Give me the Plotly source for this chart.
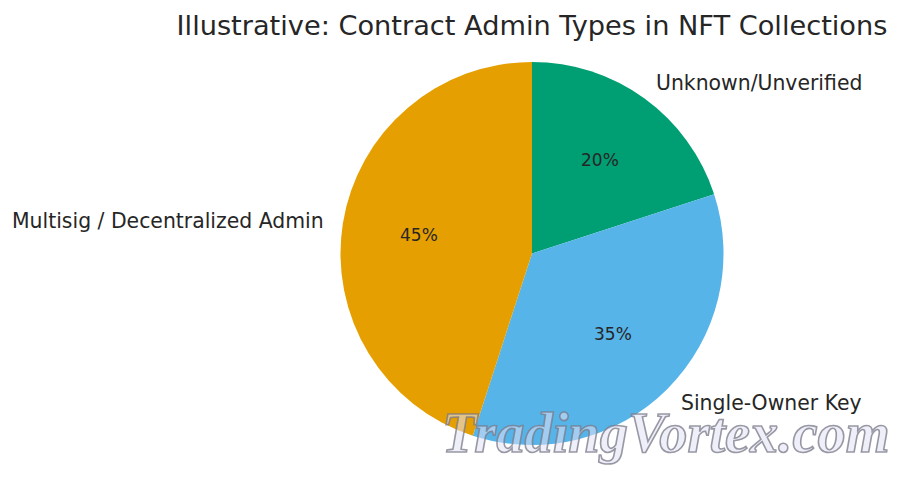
import numpy as np
import plotly.graph_objects as go

labels = ["Unknown/Unverified", "Single-Owner Key", "Multisig / Decentralized Admin"]
values = [20, 35, 45]
colors = ["#009E73", "#56B4E9", "#E69F00"]
pct_text = ["20%", "35%", "45%"]
title = "Illustrative: Contract Admin Types in NFT Collections"
watermark = "TradingVortex.com"

W, H = 900, 477
cx, cy, radius = 532, 253.5, 191.5

fig = go.Figure(go.Pie(
    labels=labels,
    values=values,
    sort=False,
    direction="clockwise",
    rotation=0,
    textinfo="none",
    hoverinfo="skip",
    marker=dict(colors=colors),
    showlegend=False,
    domain=dict(x=[(cx - radius) / W, (cx + radius) / W],
                y=[1 - (cy + radius) / H, 1 - (cy - radius) / H]),
))

# percent labels sit at 0.6 of the radius, mid-slice
shares = np.array(values) / sum(values)
mids = (np.cumsum(shares) - shares / 2) * 2 * np.pi
for txt, ang in zip(pct_text, mids):
    fig.add_annotation(
        text=txt, x=(cx + 0.6 * radius * np.sin(ang)) / W, y=1 - (cy - 0.6 * radius * np.cos(ang) - 1) / H,
        xref="paper", yref="paper", showarrow=False, xanchor="center", yanchor="middle",
        font=dict(size=17, color="#262626"),
    )

# outer slice labels
outer = [(864, 83), (864, 403), (325.5, 221)]
for lab, (px, py) in zip(labels, outer):
    fig.add_annotation(
        text=lab, x=px / W, y=1 - py / H, xref="paper", yref="paper", showarrow=False,
        xanchor="right", yanchor="middle", font=dict(size=20.4, color="#262626"),
    )

fig.add_annotation(
    text="<b><i>" + watermark + "</i></b>", x=666 / W, y=1 - 433 / H,
    xref="paper", yref="paper", showarrow=False, xanchor="center", yanchor="middle",
    font=dict(family="Liberation Serif", size=56.4, color="rgba(226,226,245,0.55)"),
)

fig.update_layout(
    width=W,
    height=H,
    margin=dict(l=0, r=0, t=0, b=0),
    paper_bgcolor="white",
    font=dict(family="DejaVu Sans", size=17, color="#262626"),
    title=dict(text=title, x=532 / W, xanchor="center", y=1 - 25 / H, yanchor="middle",
               font=dict(size=27.2, color="#262626")),
)

# body margin off, grey outline on the watermark letters
post = """
document.body.style.margin = '0';
document.querySelectorAll('.annotation-text').forEach(function (t) {
  if (t.textContent.indexOf('Trading') === 0) {
    t.style.stroke = 'rgba(120,120,135,0.75)';
    t.style.strokeWidth = '1.6px';
    t.querySelectorAll('tspan').forEach(function (s) {
      s.style.stroke = 'rgba(120,120,135,0.75)';
      s.style.strokeWidth = '1.6px';
    });
  }
});
"""
fig.write_html("out.html", config={"displayModeBar": False}, post_script=post)
